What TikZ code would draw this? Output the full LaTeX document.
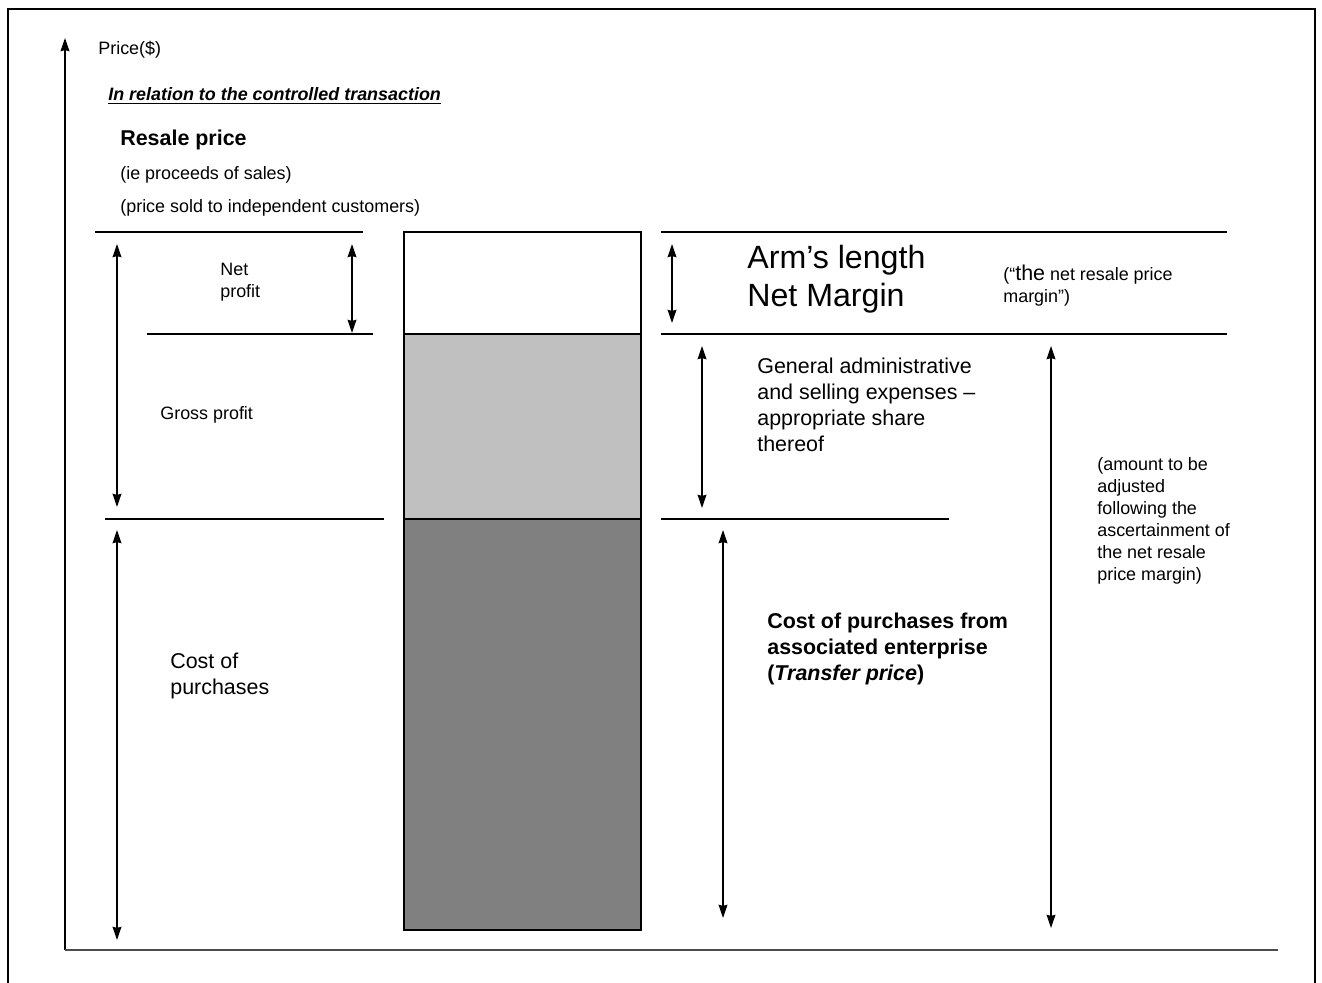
\documentclass[tikz,border=0pt]{standalone}
\usepackage{fontspec}
\setmainfont{Liberation Sans}
\usetikzlibrary{arrows.meta}

\definecolor{cinzaClaro}{HTML}{C0C0C0}
\definecolor{cinzaEscuro}{HTML}{808080}

\begin{document}
\begin{tikzpicture}[
    x=0.02cm, y=-0.02cm,
    >={Stealth[length=7.5pt,width=5pt,inset=0.6pt]},
    font=\fontsize{10.2}{12.5}\selectfont,
    % Estilos padronizados
    linha/.style={line width=0.8pt},
    seta/.style={<->, line width=0.8pt},
    rotulo/.style={anchor=west, inner sep=0pt, align=left},
    medio/.style={rotulo, font=\fontsize{12.2}{14.8}\selectfont},
    grande/.style={rotulo, font=\fontsize{18.3}{21.5}\selectfont}
]

% =========================================================
% === PARÂMETROS DOS NÍVEIS (em pixels da figura) ===
% =========================================================
\def\yTopo{232}    % Preço de revenda
\def\yMeio{334}    % Fim da margem líquida
\def\yBase{519}    % Custo das compras
\def\yFundo{930}   % Fundo da barra
\def\xBarE{404}    % Borda esquerda da barra
\def\xBarD{641}    % Borda direita da barra
% =========================================================

\useasboundingbox (0,0) rectangle (1322,983);

% --- Moldura (aberta embaixo) ---
\draw[line width=1.3pt] (8,983) -- (8,9) -- (1315,9) -- (1315,983);

% --- Eixos ---
\coordinate (origem) at (65,950);
\coordinate (topoEixo) at (65,38);
\coordinate (fimEixo) at (1278,950);
\draw[->, line width=0.9pt] (origem) -- (topoEixo);
\draw[line width=1.3pt, black!70] (origem) -- (fimEixo);

% --- Barra empilhada ---
\draw[linha, fill=white] (\xBarE,\yTopo) rectangle (\xBarD,\yMeio);
\draw[linha, fill=cinzaClaro] (\xBarE,\yMeio) rectangle (\xBarD,\yBase);
\draw[linha, fill=cinzaEscuro] (\xBarE,\yBase) rectangle (\xBarD,\yFundo);

% --- Linhas horizontais dos níveis ---
\draw[linha] (95,\yTopo) -- (363,\yTopo);
\draw[linha] (147,\yMeio) -- (373,\yMeio);
\draw[linha] (105,\yBase) -- (384,\yBase);
\draw[linha] (661,\yTopo) -- (1227,\yTopo);
\draw[linha] (661,\yMeio) -- (1227,\yMeio);
\draw[linha] (661,\yBase) -- (949,\yBase);

% --- Pontas das setas ---
\coordinate (gpA) at (117,244);   \coordinate (gpB) at (117,507);
\coordinate (npA) at (352,244);   \coordinate (npB) at (352,333);
\coordinate (cpA) at (117,530);   \coordinate (cpB) at (117,940);
\coordinate (amA) at (672,244);   \coordinate (amB) at (672,323);
\coordinate (gaA) at (702,346);   \coordinate (gaB) at (702,508);
\coordinate (tpA) at (723,530);   \coordinate (tpB) at (723,918);
\coordinate (ajA) at (1051,346);  \coordinate (ajB) at (1051,928);

% --- Setas verticais ---
\draw[seta] (gpA) -- (gpB);
\draw[seta] (npA) -- (npB);
\draw[seta] (cpA) -- (cpB);
\draw[seta] (amA) -- (amB);
\draw[seta] (gaA) -- (gaB);
\draw[seta] (tpA) -- (tpB);
\draw[seta] (ajA) -- (ajB);

% --- Textos do lado esquerdo ---
\node[rotulo] (preco) at (98,50) {Price(\$)};
\node[rotulo] (titulo) at (108,96) {\textbf{\textit{\underline{In relation to the controlled transaction}}}};
\node[medio, font=\fontsize{12.2}{14.8}\selectfont\bfseries] (revenda) at (120,140) {Resale price};
\node[rotulo] (proventos) at (120,175) {(ie proceeds of sales)};
\node[rotulo] (vendido) at (120,208) {(price sold to independent customers)};
\node[rotulo] (lucroLiq) at (220,282) {Net\\profit};
\node[rotulo] (lucroBruto) at (160,415) {Gross profit};
\node[medio] (custo) at (170,676) {Cost of\\purchases};

% --- Textos do lado direito ---
\node[grande] (margem) at (747,279) {Arm’s length\\Net Margin};
\node[rotulo] (margemObs) at (1003,286) {(“{\fontsize{12.2}{14}\selectfont the} net resale price\\margin”)};
\node[medio] (despesas) at (757,405) {General administrative\\and selling expenses –\\appropriate share\\thereof};
\node[rotulo] (ajuste) at (1097,521) {(amount to be\\adjusted\\following the\\ascertainment of\\the net resale\\price margin)};
\node[medio, font=\fontsize{12.2}{14.8}\selectfont\bfseries] (transf) at (767,649) {Cost of purchases from\\associated enterprise\\(\textit{Transfer price})};

\end{tikzpicture}
\end{document}
